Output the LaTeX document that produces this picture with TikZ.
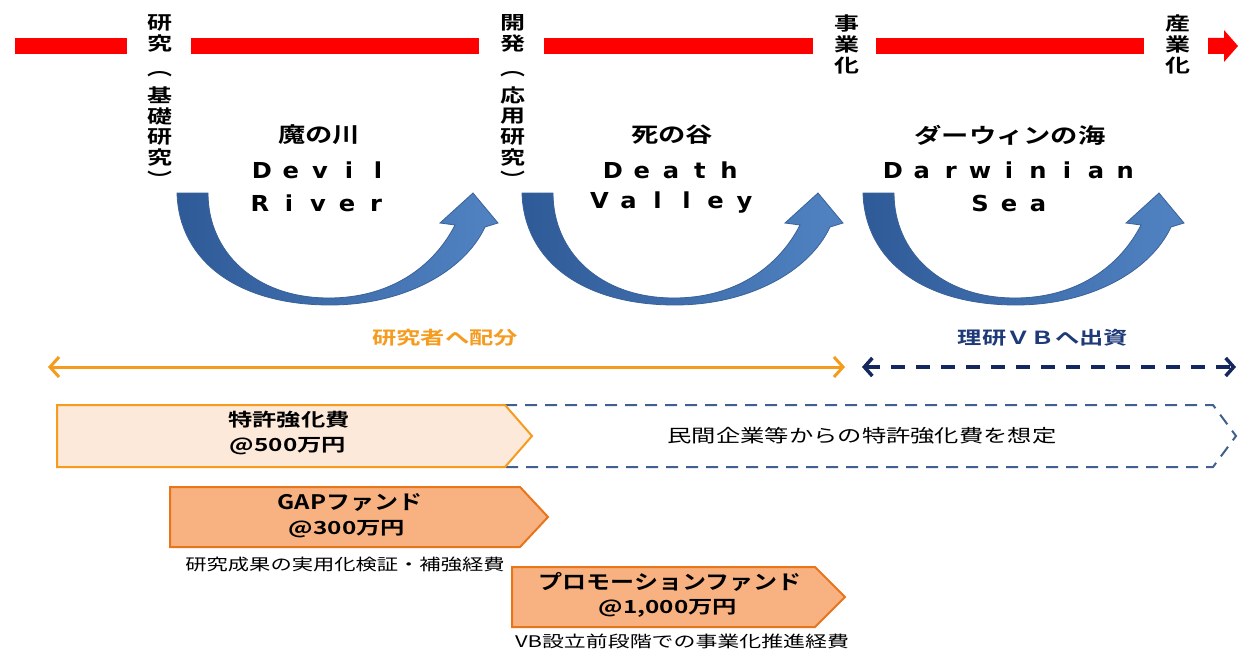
\documentclass[tikz,border=0pt]{standalone}
\usepackage{fontspec}
\usepackage{graphicx}
\usetikzlibrary{arrows.meta}
\newfontfamily\jp{Noto Sans CJK JP}[BoldFont={Noto Sans CJK JP Bold}]
\newfontfamily\lat{DejaVu Sans}
\newcommand\hx[2][1.35]{\scalebox{#1}[1]{#2}}
\makeatletter
\newcommand\pitched[1]{\@tfor\pch:=#1\do{\makebox[26.4pt]{\pch}}}
\makeatother
\definecolor{barred}{HTML}{FF0000}
\definecolor{orng}{HTML}{F59B1E}
\definecolor{navy}{HTML}{14285F}
\definecolor{navytxt}{HTML}{1F3A78}
\definecolor{peach}{HTML}{FDE9D9}
\definecolor{dashblue}{HTML}{41608F}
\definecolor{gapfill}{HTML}{F8B282}
\definecolor{gapedge}{HTML}{E8751A}
\definecolor{bdark}{HTML}{2F5A98}
\definecolor{blight}{HTML}{5183C2}
\definecolor{bedge}{HTML}{3A6298}
\tikzset{
  vlab/.style={font=\jp\bfseries\fontsize{18.5}{18.5}\selectfont, inner sep=0pt},
  ttl/.style={font=\jp\bfseries\fontsize{21}{21}\selectfont, inner sep=0pt},
  lt/.style={font=\lat\bfseries\fontsize{22}{22}\selectfont, inner sep=0pt},
  redbar/.style={draw=barred, line width=16pt},
  oarrow/.style={draw=orng, line width=3pt, {Straight Barb[length=9pt,width=20pt]}-{Straight Barb[length=9pt,width=20pt]}},
  narrow/.style={draw=navy, line width=3.5pt, dash pattern=on 14pt off 11pt, {Straight Barb[length=8pt,width=18pt]}-{Straight Barb[length=8pt,width=18pt]}},
  otxt/.style={font=\jp\bfseries\fontsize{18}{18}\selectfont, text=orng, inner sep=0pt},
  ntxt/.style={font=\jp\bfseries\fontsize{18}{18}\selectfont, text=navytxt, inner sep=0pt},
  boxtxt/.style={font=\jp\bfseries\fontsize{18}{18}\selectfont, inner sep=0pt},
  bigtxt/.style={font=\jp\bfseries\fontsize{20}{20}\selectfont, inner sep=0pt},
  plain/.style={font=\jp\fontsize{18}{18}\selectfont, inner sep=0pt},
  small/.style={font=\jp\fontsize{16}{16}\selectfont, inner sep=0pt},
  lightbox/.style={draw=orng, fill=peach, line width=2pt, line join=miter},
  dashbox/.style={draw=dashblue, line width=2pt, dash pattern=on 12pt off 8pt},
  fundbox/.style={draw=gapedge, fill=gapfill, line width=2pt, line join=miter},
  curv/.style={left color=bdark, right color=blight, draw=bedge, line width=0.8pt},
}
\newcommand\curvedarrow[1]{%
  \begin{scope}[shift={(#1,0)}]
    \shade[curv] (0,193) .. controls (2,262) and (62,305) .. (153,305)
      .. controls (226,305) and (287,272) .. (308,227)
      -- (321,223) -- (296,193) -- (263,223) -- (278,225)
      .. controls (256,268) and (212,298) .. (152,298)
      .. controls (78,298) and (31,252) .. (31,193) -- cycle;
  \end{scope}}
\begin{document}
\begin{tikzpicture}[x=1pt,y=-1pt]
\useasboundingbox[fill=white] (0,0) rectangle (1238,650);
% timeline bar
\draw[redbar] (15,46) -- (127,46);
\draw[redbar] (191,46) -- (479,46);
\draw[redbar] (544,46) -- (813,46);
\draw[redbar] (876,46) -- (1144,46);
\fill[barred] (1208,38) -- (1224,38) -- (1224,30) -- (1238,46) -- (1224,62) -- (1224,54) -- (1208,54) -- cycle;
% vertical labels
\foreach \c/\yy [count=\i] in {研/23,究/44,︵/74,基/95,礎/116,研/137,究/158,︶/179}
  \node[vlab] (va\i) at (160,\yy) {\hx{\c}};
\foreach \c/\yy [count=\i] in {開/23,発/44,︵/74,応/95,用/116,研/137,究/158,︶/179}
  \node[vlab] (vb\i) at (513,\yy) {\hx{\c}};
\foreach \c/\yy [count=\i] in {事/23,業/44,化/66}
  \node[vlab] (vc\i) at (847,\yy) {\hx{\c}};
\foreach \c/\yy [count=\i] in {産/23,業/44,化/66}
  \node[vlab] (vd\i) at (1178,\yy) {\hx{\c}};
% curved arrows
\curvedarrow{177}
\curvedarrow{522}
\curvedarrow{863}
% titles
\node[ttl] (t1a) at (319,135) {\hx[1.3]{魔の川}};
\node[lt]  (t1b) at (320,170) {\hx[1.1]{\pitched{Devil}}};
\node[lt]  (t1c) at (318,203) {\hx[1.1]{\pitched{River}}};
\node[ttl] (t2a) at (672,135) {\hx[1.3]{死の谷}};
\node[lt]  (t2b) at (671,170) {\hx[1.1]{\pitched{Death}}};
\node[lt]  (t2c) at (672,203) {\hx[1.1]{\pitched{Valley}}};
\node[ttl] (t3a) at (1010,135) {\hx[1.3]{ダーウィンの海}};
\node[lt]  (t3b) at (1009,170) {\hx[1.1]{\pitched{Darwinian}}};
\node[lt]  (t3c) at (1009,203) {\hx[1.1]{\pitched{Sea}}};
% allocation arrows
\node[otxt] (alloc) at (445,338) {\hx{研究者へ配分}};
\node[ntxt] (invest) at (1043,338) {\hx{理研ＶＢへ出資}};
\coordinate (oL) at (48,367);
\coordinate (oR) at (845,367);
\coordinate (nL) at (862,367);
\coordinate (nR) at (1236,367);
\draw[oarrow] (oL) -- (oR);
\draw[narrow] (nL) -- (nR);
% patent boxes
\draw[dashbox] (505,405) -- (1213,405) -- (1236,436) -- (1213,467) -- (505,467);
\path[lightbox] (57,405) -- (505,405) -- (532,436) -- (505,467) -- (57,467) -- cycle;
\node[boxtxt] (k1) at (289,420) {\hx{特許強化費}};
\node[boxtxt] (k2) at (288,446) {\hx{@500万円}};
\node[plain] (k3) at (862,436) {\hx{民間企業等からの特許強化費を想定}};
% GAP fund
\path[fundbox] (170,487) -- (520,487) -- (548,517) -- (520,547) -- (170,547) -- cycle;
\node[bigtxt] (g1) at (350,502) {\hx[1.2]{GAPファンド}};
\node[boxtxt] (g2) at (347,529) {\hx{@300万円}};
\node[small] (g3) at (345,564) {\hx[1.33]{研究成果の実用化検証・補強経費}};
% promotion fund
\path[fundbox] (512,567) -- (815,567) -- (845,597) -- (815,627) -- (512,627) -- cycle;
\node[bigtxt] (p1) at (670,582) {\hx[1.2]{プロモーションファンド}};
\node[boxtxt] (p2) at (668,608) {\hx{@1,000万円}};
\node[small] (p3) at (682,641) {\hx[1.37]{VB設立前段階での事業化推進経費}};
\end{tikzpicture}
\end{document}
